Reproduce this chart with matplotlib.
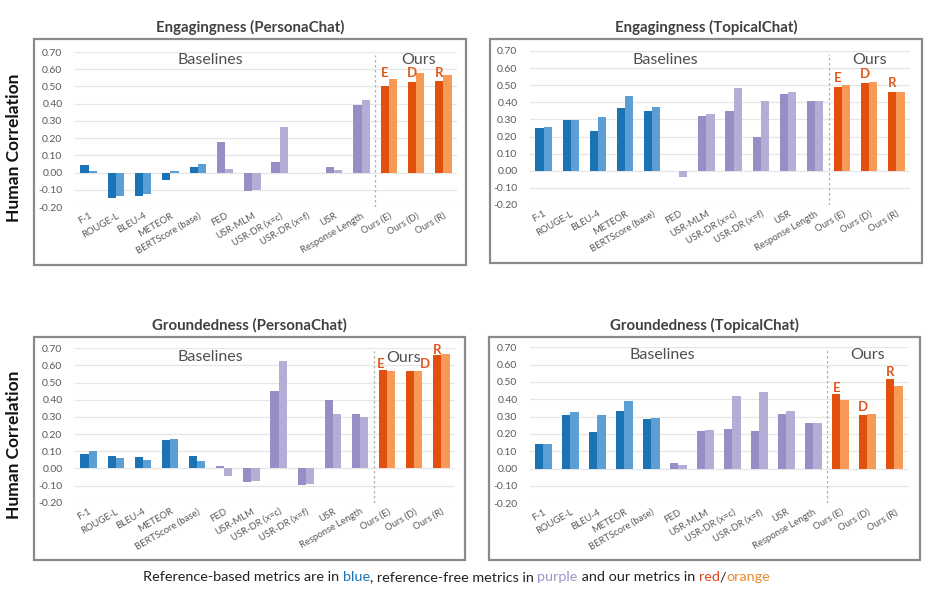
import matplotlib
matplotlib.use('Agg')
import matplotlib.pyplot as plt
from matplotlib.patches import Rectangle
import numpy as np

plt.rcParams['font.family'] = ['Lato', 'DejaVu Sans']

categories = ['F-1', 'ROUGE-L', 'BLEU-4', 'METEOR', 'BERTScore (base)', 'FED',
              'USR-MLM', 'USR-DR (x=c)', 'USR-DR (x=f)', 'USR', 'Response Length',
              'Ours (E)', 'Ours (D)', 'Ours (R)']
groups = ['ref'] * 5 + ['free'] * 6 + ['ours'] * 3
letters = ['E', 'D', 'R']
yticks = [-0.2, -0.1, 0.0, 0.1, 0.2, 0.3, 0.4, 0.5, 0.6, 0.7]

eng_persona_dark = [0.043, -0.146, -0.135, -0.045, 0.030, 0.180, -0.105, 0.060, -0.002, 0.030, 0.390, 0.500, 0.525, 0.530]
eng_persona_light = [0.007, -0.138, -0.125, 0.007, 0.047, 0.022, -0.100, 0.265, -0.005, 0.012, 0.420, 0.545, 0.578, 0.565]

eng_topical_dark = [0.250, 0.295, 0.230, 0.365, 0.350, 0.000, 0.318, 0.350, 0.200, 0.450, 0.405, 0.490, 0.515, 0.460]
eng_topical_light = [0.255, 0.297, 0.315, 0.435, 0.370, -0.035, 0.330, 0.485, 0.410, 0.460, 0.405, 0.500, 0.520, 0.460]

grd_persona_dark = [0.082, 0.070, 0.065, 0.165, 0.070, 0.012, -0.080, 0.450, -0.095, 0.400, 0.315, 0.575, 0.565, 0.660]
grd_persona_light = [0.104, 0.060, 0.050, 0.170, 0.045, -0.045, -0.075, 0.628, -0.090, 0.315, 0.300, 0.568, 0.565, 0.665]

grd_topical_dark = [0.145, 0.310, 0.210, 0.335, 0.285, 0.030, 0.217, 0.228, 0.220, 0.315, 0.263, 0.428, 0.307, 0.520]
grd_topical_light = [0.145, 0.325, 0.310, 0.390, 0.295, 0.022, 0.222, 0.418, 0.445, 0.335, 0.265, 0.395, 0.315, 0.475]

colors_dark = {'ref': '#1b73b5', 'free': '#988dc4', 'ours': '#e2500e'}
colors_light = {'ref': '#5b9fd5', 'free': '#b4aed7', 'ours': '#f69a55'}
letter_color = '#e0571b'
grey_text = '#595959'

panels = [
    dict(title='Engagingness (PersonaChat)', dark=eng_persona_dark, light=eng_persona_light,
         rect=[0.0802, 0.6521, 0.4086, 0.2605], box=[34, 39, 466, 265],
         letter_pos=[(10.85, 0.552), (11.85, 0.557), (12.85, 0.557)],
         base_pos=(4.45, 0.655), ours_pos=(12.1, 0.655), ylabel=True),
    dict(title='Engagingness (TopicalChat)', dark=eng_topical_dark, light=eng_topical_light,
         rect=[0.5668, 0.6555, 0.4064, 0.2588], box=[490, 39, 922, 263],
         letter_pos=[(10.85, 0.518), (11.85, 0.545), (12.85, 0.492)],
         base_pos=(4.5, 0.65), ours_pos=(12.03, 0.65), ylabel=False),
    dict(title='Groundedness (PersonaChat)', dark=grd_persona_dark, light=grd_persona_light,
         rect=[0.0802, 0.1551, 0.4064, 0.2595], box=[34, 337, 465, 560],
         letter_pos=[(10.75, 0.585), (12.4, 0.585), (12.85, 0.668)],
         base_pos=(4.5, 0.65), ours_pos=(11.6, 0.645), ylabel=True),
    dict(title='Groundedness (TopicalChat)', dark=grd_topical_dark, light=grd_topical_light,
         rect=[0.5668, 0.1541, 0.4043, 0.2622], box=[489, 337, 920, 560],
         letter_pos=[(10.85, 0.445), (11.85, 0.33), (12.85, 0.532)],
         base_pos=(4.39, 0.655), ours_pos=(12.0, 0.655), ylabel=False),
]

W, H = 935, 595
fig = plt.figure(figsize=(W / 100, H / 100), dpi=100)

x = np.arange(len(categories))
bw = 0.30

for p in panels:
    x0, y0, x1, y1 = p['box']
    fig.patches.append(Rectangle((x0 / W, 1 - y1 / H), (x1 - x0) / W, (y1 - y0) / H,
                                 transform=fig.transFigure, fill=False,
                                 edgecolor='#8a8a8a', linewidth=1.6))
    fig.text((x0 + x1) / 2 / W, 1 - (y0 - 12) / H, p['title'], ha='center', va='center',
             fontsize=10.8, fontweight='bold', color='#404040')
    if p['ylabel']:
        fig.text(14 / W, 1 - ((y0 + y1) / 2 - 4) / H, 'Human Correlation', rotation=90,
                 ha='center', va='center', fontsize=12.5, fontweight='bold', color='#111111')

    ax = fig.add_axes(p['rect'])
    cd = [colors_dark[g] for g in groups]
    cl = [colors_light[g] for g in groups]
    ax.bar(x - bw / 2, p['dark'], bw, color=cd, zorder=3)
    ax.bar(x + bw / 2, p['light'], bw, color=cl, zorder=3)
    ax.set_xlim(-0.5, len(categories) - 0.5)
    ax.set_ylim(-0.2, 0.7)
    ax.set_yticks(yticks)
    ax.set_yticklabels([f'{v:.2f}' for v in yticks])
    ax.yaxis.grid(True, color='#e6e6e6', linewidth=0.9, zorder=0)
    ax.set_axisbelow(True)
    for s in ax.spines.values():
        s.set_visible(False)
    ax.tick_params(axis='y', length=0, pad=9, labelsize=7.5, labelcolor=grey_text)
    ax.tick_params(axis='x', length=0, pad=3, labelsize=6.8, labelcolor=grey_text)
    ax.set_xticks(x)
    ax.set_xticklabels(categories, rotation=30, ha='right', rotation_mode='anchor')
    ax.axvline(10.5, ymin=0.0, ymax=0.98, color='#b0b0b0', linestyle=(0, (2, 2)),
               linewidth=0.9, zorder=2)
    ax.text(p['base_pos'][0], p['base_pos'][1], 'Baselines', ha='center', va='center',
            fontsize=11.5, color='#505050')
    ax.text(p['ours_pos'][0], p['ours_pos'][1], 'Ours', ha='center', va='center',
            fontsize=11.5, color='#505050')
    for lt, (lx, ly) in zip(letters, p['letter_pos']):
        ax.text(lx, ly, lt, ha='center', va='baseline', fontsize=9.5,
                fontweight='bold', color=letter_color, clip_on=False)

# footer with coloured words
parts = [('Reference-based metrics are in ', '#222222'), ('blue', '#1b73b5'),
         (', reference-free metrics in ', '#222222'), ('purple', '#9d93c9'),
         (' and our metrics in ', '#222222'), ('red', '#d9431a'), ('/', '#222222'),
         ('orange', '#ee8a2e')]
t = fig.text(143 / W, 1 - 577 / H, parts[0][0], ha='left', va='center', fontsize=10.4,
             color=parts[0][1])
for s, c in parts[1:]:
    t = fig.text(0, 0, '', fontsize=1) if False else \
        plt.annotate(s, xycoords=t, xy=(1, 0.5), va='center', ha='left', fontsize=10.4,
                     color=c, annotation_clip=False)

fig.savefig('out.png', dpi=100)
